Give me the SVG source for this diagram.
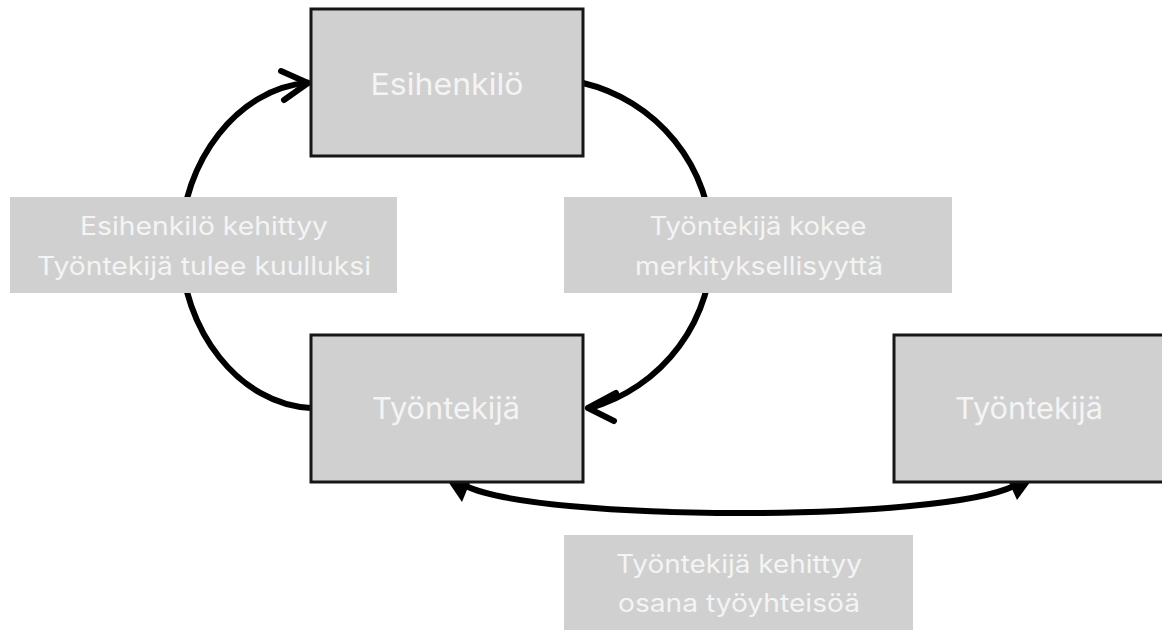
<svg xmlns="http://www.w3.org/2000/svg" width="1162" height="630" viewBox="0 0 1162 630">
<defs>
<style>
.node{fill:#d0d0d0;stroke:#161616;stroke-width:3}
.lab{fill:#d0d0d0}
.t{font-family:Inter,"Noto Sans","Liberation Sans",sans-serif;fill:#f4f4f4;text-anchor:middle}
.nt{font-size:30px}
.lt{font-size:25px}
.c{fill:none;stroke:#000;stroke-width:6;stroke-linecap:round;stroke-linejoin:round}
.ah{fill:#000}
</style>
</defs>
<rect width="1162" height="630" fill="#fff"/>
<g id="connectors">
<path class="c" d="M583 83 A168 168 0 0 1 590 408"/>
<path class="c" d="M588 408 L616 393 M588 408 L614 421"/>
<path class="c" d="M311 408 C240 405 181 330 181 245 C181 160 240 88 307 83"/>
<path class="c" d="M308 83 L281 71 M308 83 L284 100"/>
<path class="c" d="M466 486 C540 522, 940 522, 1014 486"/>
<polygon class="ah" points="441,471 462,502 475,470"/>
<polygon class="ah" points="1039,470 1017,500 1003,469"/>
</g>
<g id="esihenkilo">
<rect class="node" x="311" y="9" width="272" height="147"/>
<text class="t nt" x="447" y="95" textLength="153" lengthAdjust="spacingAndGlyphs">Esihenkilö</text>
</g>
<g id="tyontekija1">
<rect class="node" x="311" y="335" width="272" height="147"/>
<text class="t nt" x="446" y="419" textLength="148" lengthAdjust="spacingAndGlyphs">Työntekijä</text>
</g>
<g id="tyontekija2">
<rect class="node" x="894" y="335" width="272" height="147"/>
<text class="t nt" x="1029" y="419" textLength="148" lengthAdjust="spacingAndGlyphs">Työntekijä</text>
</g>
<g id="label-left">
<rect class="lab" x="10" y="197" width="387" height="96"/>
<text class="t lt" x="204" y="235" textLength="248" lengthAdjust="spacingAndGlyphs">Esihenkilö kehittyy</text>
<text class="t lt" x="204" y="275" textLength="334" lengthAdjust="spacingAndGlyphs">Työntekijä tulee kuulluksi</text>
</g>
<g id="label-right">
<rect class="lab" x="564" y="197" width="388" height="96"/>
<text class="t lt" x="758" y="235" textLength="217" lengthAdjust="spacingAndGlyphs">Työntekijä kokee</text>
<text class="t lt" x="759" y="275" textLength="248" lengthAdjust="spacingAndGlyphs">merkityksellisyyttä</text>
</g>
<g id="label-bottom">
<rect class="lab" x="564" y="535" width="349" height="100"/>
<text class="t lt" x="739" y="573" textLength="246" lengthAdjust="spacingAndGlyphs">Työntekijä kehittyy</text>
<text class="t lt" x="739" y="612" textLength="242" lengthAdjust="spacingAndGlyphs">osana työyhteisöä</text>
</g>
</svg>
